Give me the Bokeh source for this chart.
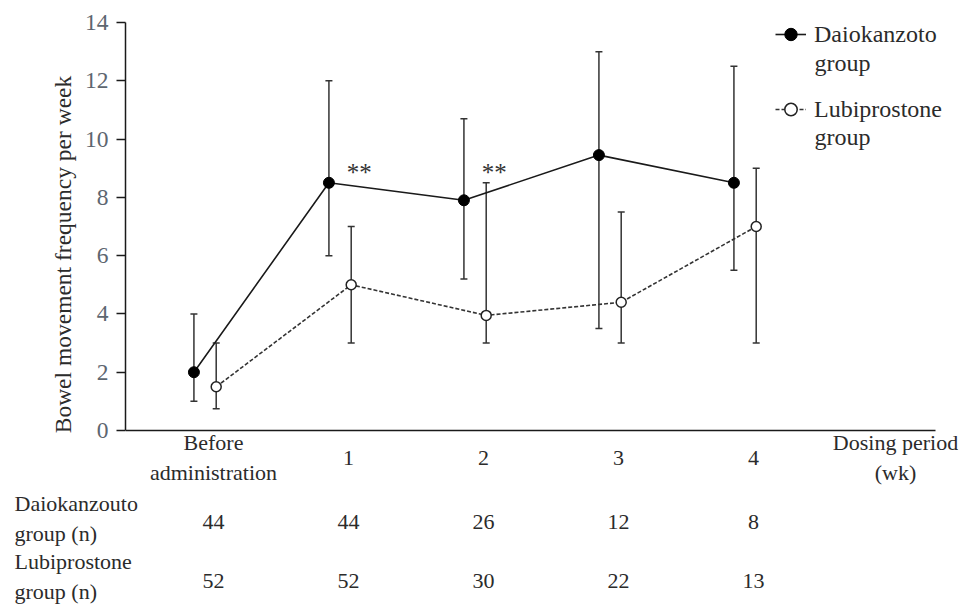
from bokeh.plotting import figure
from bokeh.layouts import column
from bokeh.models import (Range1d, Whisker, TeeHead, ColumnDataSource,
                          Legend, LegendItem, FixedTicker)
from bokeh.embed import file_html
from bokeh.resources import INLINE
from bokeh.core.properties import value

# ---------------- data ----------------
categories = ["Before\nadministration", "1", "2", "3", "4"]
daio_mean = [2.0, 8.5, 7.9, 9.45, 8.5]
daio_low = [1.0, 6.0, 5.2, 3.5, 5.5]
daio_high = [4.0, 12.0, 10.7, 13.0, 12.5]
lubi_mean = [1.5, 5.0, 3.95, 4.4, 7.0]
lubi_low = [0.75, 3.0, 3.0, 3.0, 3.0]
lubi_high = [3.0, 7.0, 8.5, 7.5, 9.0]
daio_n = [44, 44, 26, 12, 8]
lubi_n = [52, 52, 30, 22, 13]
sig_marks = ["", "**", "**", "", ""]
y_ticks = [0, 2, 4, 6, 8, 10, 12, 14]
series_names = ["Daiokanzoto", "Lubiprostone"]
series_suffix = "group"
row_names = ["Daiokanzouto\ngroup (n)", "Lubiprostone\ngroup (n)"]
x_title = "Dosing period\n(wk)"
y_title = "Bowel movement frequency per week"

# ---------------- layout ----------------
W = 960
TOP_H, BOT_H = 488, 116
FRAME_L, FRAME_T = 125, 22        # page px
AXIS_B = 430                      # page px of y = 0 (x-axis line)
AXIS_R = 935                      # right end of the x-axis line
FRAME_R = W - 2
FRAME_B = TOP_H - 2
X0_PX, X_UNIT = 213, 135.0        # px of category 0, px per category
Y_MAX = 14
Y_UNIT = (AXIS_B - FRAME_T) / Y_MAX


def xdat(px):
    return (px - X0_PX) / X_UNIT


def ydat(py):
    return (AXIS_B - py) / Y_UNIT


FONT = "Liberation Serif"
TXT = "#2b2b2b"
idx = list(range(len(categories)))
daio_x = [i - 0.145 for i in idx]
lubi_x = [i + 0.02 for i in idx]

p = figure(width=W, height=TOP_H, output_backend="svg", toolbar_location=None,
           x_range=Range1d(xdat(FRAME_L), xdat(FRAME_R)),
           y_range=Range1d(ydat(FRAME_B), Y_MAX),
           min_border_left=FRAME_L, min_border_right=W - FRAME_R,
           min_border_top=FRAME_T, min_border_bottom=TOP_H - FRAME_B,
           frame_align=False)
p.outline_line_color = None
p.grid.visible = False

# y axis
yax = p.yaxis[0]
yax.ticker = FixedTicker(ticks=y_ticks)
yax.bounds = (0, Y_MAX)
yax.minor_tick_line_color = None
yax.major_tick_out = 9
yax.major_tick_in = 0
yax.major_tick_line_width = 1.5
yax.axis_line_width = 1.5
yax.axis_line_color = "#1a1a1a"
yax.major_tick_line_color = "#1a1a1a"
yax.major_label_text_font = FONT
yax.major_label_text_font_size = "23.5px"
yax.major_label_text_color = "#5d6670"
yax.major_label_standoff = 8
yax.axis_label = y_title
yax.axis_label_text_font = FONT
yax.axis_label_text_font_size = "23.5px"
yax.axis_label_text_font_style = "normal"
yax.axis_label_text_color = TXT
yax.axis_label_standoff = 6

# x axis (line only, drawn at y = 0)
xax = p.xaxis[0]
xax.ticker = FixedTicker(ticks=[])
xax.fixed_location = 0
xax.bounds = (xdat(FRAME_L), xdat(AXIS_R))
xax.minor_tick_line_color = None
xax.major_tick_line_color = None
xax.major_tick_out = 0
xax.major_tick_in = 0
xax.major_label_standoff = 0
xax.axis_line_width = 1.5
xax.axis_line_color = "#1a1a1a"

# error bars
src_d = ColumnDataSource(dict(x=daio_x, lo=daio_low, hi=daio_high))
src_l = ColumnDataSource(dict(x=lubi_x, lo=lubi_low, hi=lubi_high))
for src in (src_d, src_l):
    p.add_layout(Whisker(source=src, base="x", lower="lo", upper="hi",
                         line_color="#333333", line_width=1.5,
                         upper_head=TeeHead(size=7, line_color="#333333", line_width=1.5),
                         lower_head=TeeHead(size=7, line_color="#333333", line_width=1.5)))

# series
r_d_line = p.line(daio_x, daio_mean, line_color="#1a1a1a", line_width=1.6)
r_l_line = p.line(lubi_x, lubi_mean, line_color="#333333", line_width=1.6,
                  line_dash="4 2")
r_d_pt = p.scatter(daio_x, daio_mean, size=11, fill_color="black",
                   line_color="black")
r_l_pt = p.scatter(lubi_x, lubi_mean, size=10, fill_color="white",
                   line_color="#222222", line_width=1.5)

# significance marks
sx = [i + 0.08 for i, s in zip(idx, sig_marks) if s]
st = [s for s in sig_marks if s]
p.text(x=sx, y=[8.85] * len(sx), text=st, text_font=value(FONT),
       text_font_size="25px", text_color="#333333", text_align="center",
       text_baseline="middle")

# legend
LEG_GLYPH_W, LEG_ITEM_H, LEG_STEP = 31, 34, 75
LEG_LEFT, LEG_FIRST_Y = 775, 34
legend = Legend(items=[
    LegendItem(label=series_names[0], renderers=[r_d_line, r_d_pt]),
    LegendItem(label=series_names[1], renderers=[r_l_line, r_l_pt]),
])
legend.label_text_font = FONT
legend.label_text_font_size = "24px"
legend.label_text_color = TXT
legend.glyph_width = LEG_GLYPH_W
legend.glyph_height = LEG_ITEM_H
legend.label_height = LEG_ITEM_H
legend.spacing = LEG_STEP - LEG_ITEM_H
legend.padding = 0
legend.margin = 0
legend.border_line_color = None
legend.background_fill_alpha = 0
legend.label_standoff = 8
leg_h = 2 * LEG_ITEM_H + legend.spacing
leg_bottom = LEG_FIRST_Y - LEG_ITEM_H / 2 + leg_h
legend.location = (LEG_LEFT - FRAME_L, FRAME_B - leg_bottom)
p.add_layout(legend)

# second line of each legend label
lab_x = xdat(LEG_LEFT + LEG_GLYPH_W + 8)
p.text(x=[lab_x, lab_x],
       y=[ydat(LEG_FIRST_Y + 28), ydat(LEG_FIRST_Y + LEG_STEP + 27)],
       text=[series_suffix, series_suffix], text_font=value(FONT),
       text_font_size="24px", text_color=TXT, text_align="left",
       text_baseline="middle")

# category labels under the x axis
common = dict(text_font=value(FONT), text_font_size="22px", text_color=TXT,
              text_baseline="middle", text_line_height=1.2)
Y_CAT = ydat(457)
p.text(x=idx, y=[Y_CAT] * len(idx), text=categories, text_align="center", **common)
p.text(x=[xdat(895)], y=[Y_CAT], text=[x_title], text_align="center", **common)

# ---------------- bottom table ----------------
b = figure(width=W, height=BOT_H, output_backend="svg", toolbar_location=None,
           x_range=Range1d(xdat(0), xdat(W)),
           y_range=Range1d(ydat(TOP_H + BOT_H), ydat(TOP_H)),
           x_axis_location=None, y_axis_location=None,
           min_border=0, min_border_left=0, min_border_right=0,
           min_border_top=0, min_border_bottom=0, frame_align=False)
b.outline_line_color = None
b.grid.visible = False

Y_R1, Y_R2 = ydat(518), ydat(576)
Y_N1, Y_N2 = ydat(521), ydat(580)
b.text(x=idx, y=[Y_N1] * len(idx), text=[str(n) for n in daio_n], text_align="center", **common)
b.text(x=idx, y=[Y_N2] * len(idx), text=[str(n) for n in lubi_n], text_align="center", **common)
b.text(x=[xdat(14)] * 2, y=[Y_R1, Y_R2], text=row_names, text_align="left", **common)

layout = column(p, b, spacing=0)
open("out.html", "w").write(file_html(layout, INLINE))
